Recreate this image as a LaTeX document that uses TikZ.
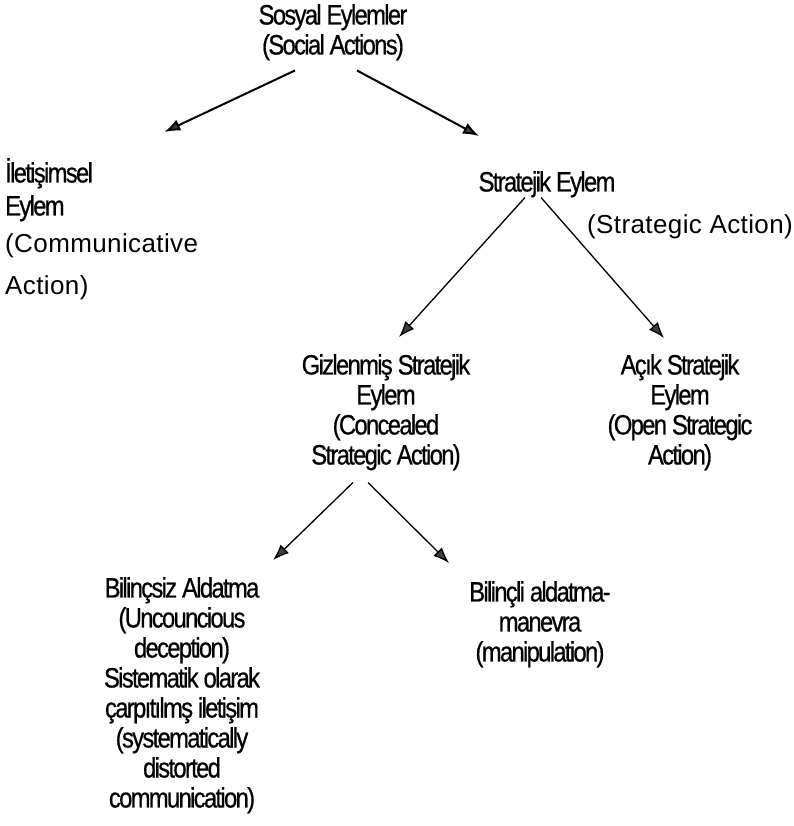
\documentclass[tikz,border=0pt]{standalone}
\usepackage{fontspec}
\setmainfont{Liberation Sans}[LetterSpace=1.5]
\newfontfamily\condfont{Liberation Sans}[FakeStretch=0.85,LetterSpace=-6,FakeBold=0.6]
\usetikzlibrary{arrows.meta}
\begin{document}
\begin{tikzpicture}[x=1pt,y=-1pt,
    txt/.style={inner sep=0pt, anchor=north, align=center, font=\condfont\fontsize{28}{30}\selectfont},
    arr/.style={-{Latex[length=16pt,width=12pt,fill=black!75]}, line width=1.3pt},
    thickarr/.style={arr, line width=2pt}]
    \useasboundingbox (0,0) rectangle (793,826);
    % levels of the tree
    \node[txt] (social) at (333,4) {Sosyal Eylemler\\(Social Actions)};
    \node[txt, anchor=north west, align=left] (comm) at (5,158)
        {İletişimsel\\[3pt]Eylem\\[7pt]{\normalfont\fontsize{26}{30}\selectfont(Communicative}\\[12pt]{\normalfont\fontsize{26}{30}\selectfont Action)}};
    \node[txt] (strat) at (547,171) {Stratejik Eylem};
    \node[txt, font=\fontsize{26}{30}\selectfont] (stratlab) at (690,214) {(Strategic Action)};
    \node[txt] (conc) at (386,354) {Gizlenmiş Stratejik\\Eylem\\(Concealed\\Strategic Action)};
    \node[txt] (open) at (680,354) {Açık Stratejik\\Eylem\\(Open Strategic\\Action)};
    \node[txt] (uncons) at (182,577) {Bilinçsiz Aldatma\\(Uncouncious\\deception)\\Sistematik olarak\\çarpıtılmş iletişim\\(systematically\\distorted\\communication)};
    \node[txt] (manip) at (540,581) {Bilinçli aldatma-\\manevra\\(manipulation)};
    % arrows
    \draw[thickarr] ([xshift=-38pt,yshift=-10pt]social.south) -- ([xshift=-34pt,yshift=26pt]comm.north east);
    \draw[thickarr] ([xshift=24pt,yshift=-10pt]social.south) -- ([xshift=-68pt,yshift=35pt]strat.north);
    \draw[arr] ([xshift=-22pt]strat.south) -- ([xshift=13pt,yshift=17pt]conc.north);
    \draw[arr] ([xshift=-6pt]strat.south) -- ([xshift=-16pt,yshift=16pt]open.north);
    \draw[arr] ([xshift=-33pt,yshift=-12pt]conc.south) -- ([xshift=13pt,yshift=17pt]uncons.north east);
    \draw[arr] ([xshift=-18pt,yshift=-12pt]conc.south) -- ([xshift=-20pt,yshift=18pt]manip.north west);
\end{tikzpicture}
\end{document}
